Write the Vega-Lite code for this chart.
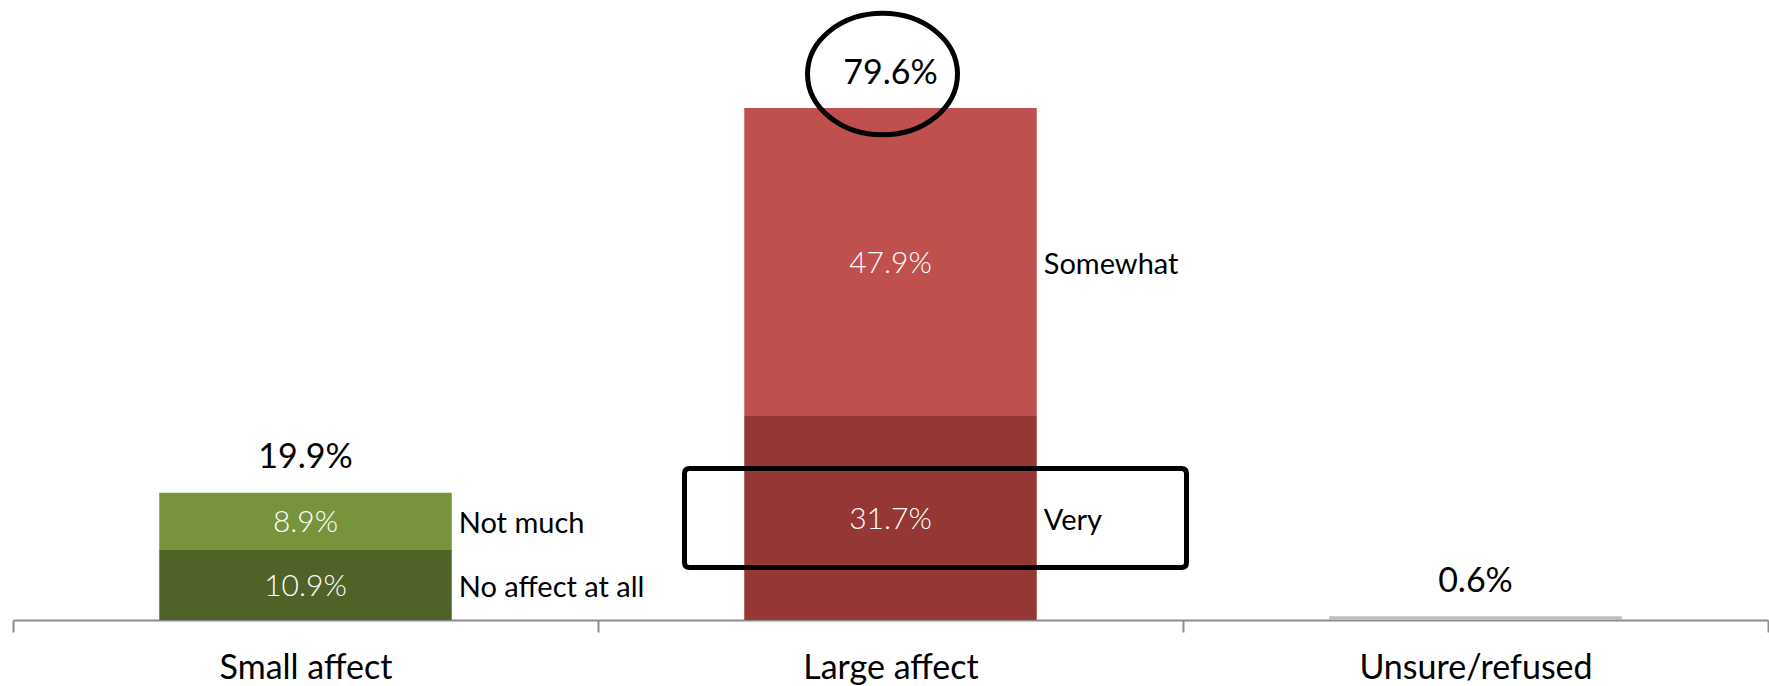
{
  "$schema": "https://vega.github.io/schema/vega-lite/v6.json",
  "width": 1755,
  "height": 611,
  "padding": {"left": 13, "top": 9, "right": 1, "bottom": 66},
  "autosize": {"type": "none"},
  "background": "white",
  "config": {"view": {"stroke": null}, "font": "Lato"},
  "datasets": {
    "segments": [
      {"category": "Small affect", "segment": "No affect at all", "value": 0.109, "order": 1},
      {"category": "Small affect", "segment": "Not much", "value": 0.089, "order": 2},
      {"category": "Large affect", "segment": "Very", "value": 0.317, "order": 1},
      {"category": "Large affect", "segment": "Somewhat", "value": 0.479, "order": 2},
      {"category": "Unsure/refused", "segment": "Unsure/refused", "value": 0.006, "order": 1}
    ],
    "totals": [
      {"category": "Small affect", "total": 0.199},
      {"category": "Large affect", "total": 0.796},
      {"category": "Unsure/refused", "total": 0.006}
    ]
  },
  "encoding": {
    "x": {
      "field": "category",
      "type": "nominal",
      "sort": ["Small affect", "Large affect", "Unsure/refused"],
      "scale": {"paddingInner": 0, "paddingOuter": 0},
      "axis": {
        "title": null,
        "labelAngle": 0,
        "domainColor": "#8C8C8C",
        "domainWidth": 2,
        "tickColor": "#8C8C8C",
        "tickWidth": 2,
        "tickSize": 12,
        "tickBand": "extent",
        "labelFontSize": 34,
        "labelColor": "#000000",
        "labelPadding": 46,
        "labelBaseline": "alphabetic",
        "labelLimit": 0,
        "labelFont": "Lato"
      }
    }
  },
  "layer": [
    {
      "data": {"name": "segments"},
      "mark": {"type": "bar", "width": {"band": 0.5}},
      "encoding": {
        "y": {"field": "value", "type": "quantitative", "stack": "zero", "scale": {"domain": [0, 0.95], "nice": false}, "axis": null},
        "color": {
          "field": "segment",
          "type": "nominal",
          "scale": {
            "domain": ["No affect at all", "Not much", "Very", "Somewhat", "Unsure/refused"],
            "range": ["#4F6228", "#77933C", "#953735", "#C0504D", "#BFBFBF"]
          },
          "legend": null
        },
        "order": {"field": "order", "type": "quantitative"}
      }
    },
    {
      "data": {"name": "segments"},
      "transform": [{"filter": "datum.category !== 'Unsure/refused'"}],
      "mark": {"type": "text", "color": "#FFFFFF", "fontSize": 30, "fontWeight": 300, "baseline": "middle", "dy": 2},
      "encoding": {
        "y": {"field": "value", "type": "quantitative", "stack": "zero", "bandPosition": 0.5},
        "text": {"field": "value", "type": "quantitative", "format": ".1%"},
        "detail": {"field": "segment"},
        "order": {"field": "order", "type": "quantitative"}
      }
    },
    {
      "data": {"name": "segments"},
      "transform": [{"filter": "datum.category !== 'Unsure/refused'"}],
      "mark": {"type": "text", "color": "#000000", "fontSize": 29, "align": "left", "baseline": "middle", "dx": 7, "dy": 3},
      "encoding": {
        "x": {"field": "category", "type": "nominal", "sort": ["Small affect", "Large affect", "Unsure/refused"], "bandPosition": 0.75},
        "y": {"field": "value", "type": "quantitative", "stack": "zero", "bandPosition": 0.5},
        "text": {"field": "segment"},
        "detail": {"field": "segment"},
        "order": {"field": "order", "type": "quantitative"}
      }
    },
    {
      "data": {"name": "totals"},
      "mark": {"type": "text", "color": "#000000", "fontSize": 34, "baseline": "alphabetic", "dy": -24},
      "encoding": {
        "y": {"field": "total", "type": "quantitative"},
        "text": {"field": "total", "type": "quantitative", "format": ".1%"}
      }
    },
    {
      "data": {"name": "totals"},
      "transform": [{"filter": "datum.category === 'Large affect'"}],
      "mark": {
        "type": "point",
        "shape": "M-1,0 C-1,-0.4474 -0.5523,-0.81 0,-0.81 C0.5523,-0.81 1,-0.4474 1,0 C1,0.4474 0.5523,0.81 0,0.81 C-0.5523,0.81 -1,0.4474 -1,0 Z",
        "size": 22500,
        "filled": false,
        "opacity": 1,
        "stroke": "#000000",
        "strokeWidth": 5,
        "xOffset": -8,
        "yOffset": -34
      },
      "encoding": {
        "y": {"field": "total", "type": "quantitative"}
      }
    },
    {
      "data": {"name": "segments"},
      "transform": [{"filter": "datum.segment === 'Very'"}],
      "mark": {
        "type": "point",
        "shape": "M-0.98,-0.197 L0.98,-0.197 Q1,-0.197 1,-0.177 L1,0.177 Q1,0.197 0.98,0.197 L-0.98,0.197 Q-1,0.197 -1,0.177 L-1,-0.177 Q-1,-0.197 -0.98,-0.197 Z",
        "size": 252004,
        "filled": false,
        "opacity": 1,
        "stroke": "#000000",
        "strokeWidth": 5,
        "xOffset": 45
      },
      "encoding": {
        "y": {"field": "value", "type": "quantitative", "stack": "zero", "bandPosition": 0.5}
      }
    }
  ]
}
